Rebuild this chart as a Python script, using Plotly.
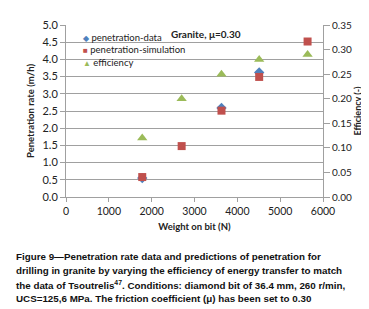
import plotly.graph_objects as go

wob_data = [1780, 3630, 4510]
pen_data = [0.55, 2.59, 3.62]
wob_sim = [1780, 2700, 3630, 4510, 5640]
pen_sim = [0.58, 1.48, 2.51, 3.49, 4.52]
wob_eff = [1780, 2700, 3630, 4510, 5640]
eff = [0.120, 0.200, 0.250, 0.280, 0.290]

series_names = ["penetration-data", "penetration-simulation", "efficiency"]
series_colors = ["#4F81BD", "#C0504D", "#9BBB59"]
series_glyphs = ["\u25C6", "\u25A0", "\u25B2"]

caption_lines = [
    "Figure 9\u2014Penetration rate data and predictions of penetration for",
    "drilling in granite by varying the efficiency of energy transfer to match",
    "the data of Tsoutrelis<sup>47</sup>. Conditions: diamond bit of 36.4 mm, 260 r/min,",
    "UCS=125,6 MPa. The friction coefficient (μ) has been set to 0.30",
]

FONT = "Lato, Open Sans, sans-serif"
L, R, T, B, W, H = 58, 54, 10, 120, 369, 309
PW, PH = W - L - R, H - T - B


def px(x):
    return (x - L) / PW


def py(y):
    return (H - B - y) / PH


fig = go.Figure()
fig.add_trace(go.Scatter(x=wob_data, y=pen_data, mode="markers", name=series_names[0],
                         marker=dict(symbol="diamond", size=8, color=series_colors[0])))
fig.add_trace(go.Scatter(x=wob_sim, y=pen_sim, mode="markers", name=series_names[1],
                         marker=dict(symbol="square", size=8, color=series_colors[1])))
fig.add_trace(go.Scatter(x=wob_eff, y=eff, mode="markers", name=series_names[2], yaxis="y2",
                         marker=dict(symbol="triangle-up", size=9, color=series_colors[2])))

fig.update_layout(
    width=W, height=H,
    margin=dict(l=L, r=R, t=T, b=B),
    paper_bgcolor="white", plot_bgcolor="white",
    font=dict(family=FONT, size=10, color="#222"),
    showlegend=False,
    xaxis=dict(range=[0, 6000], tickvals=[0, 1000, 2000, 3000, 4000, 5000, 6000],
               showgrid=False, zeroline=False, showline=True, linecolor="#A0A0A0",
               ticks="outside", ticklen=4, tickcolor="#A0A0A0",
               title=dict(text="<b>Weight on bit (N)</b>", font=dict(size=9.5), standoff=7),
               tickfont=dict(size=10.5)),
    yaxis=dict(range=[0, 5], dtick=0.5, tickformat=".1f", showgrid=True, gridcolor="#A0A0A0",
               zeroline=False, showline=True, linecolor="#A0A0A0",
               ticks="outside", ticklen=5, tickcolor="#A0A0A0",
               title=dict(text="<b>Penetration rate (m/h)</b>", font=dict(size=9.5), standoff=6),
               tickfont=dict(size=11)),
    yaxis2=dict(range=[0, 0.35], dtick=0.05, tickformat=".2f", overlaying="y", side="right",
                showgrid=False, zeroline=False, showline=True, linecolor="#A0A0A0",
                ticks="outside", ticklen=6, tickcolor="#A0A0A0",
                title=dict(text="<b>Efficiency (-)</b>", font=dict(size=9), standoff=0),
                tickfont=dict(size=10)),
)

# legend (drawn as text rows)
legend_rows_y = [23.5, 36, 49.5]
for name, col, glyph, yy in zip(series_names, series_colors, series_glyphs, legend_rows_y):
    fig.add_annotation(
        text=f"<span style='color:{col};font-size:8px'>{glyph}</span> {name}",
        xref="paper", yref="paper", x=px(73), y=py(yy), xanchor="left", yanchor="middle",
        showarrow=False, font=dict(size=9.5, family=FONT, color="#222"))

fig.add_annotation(text="<b>Granite, μ=0.30</b>", xref="paper", yref="paper",
                   x=px(198), y=py(19), xanchor="center", yanchor="middle",
                   showarrow=False, font=dict(size=10, family=FONT))

caption_y = [251, 266, 281, 295]
for line, yy in zip(caption_lines, caption_y):
    fig.add_annotation(text="<b>" + line + "</b>", xref="paper", yref="paper",
                       x=px(6), y=py(yy), xanchor="left", yanchor="middle",
                       align="left", showarrow=False,
                       font=dict(size=9.8, family="Liberation Sans, Arial, sans-serif",
                                 color="#111"))

fig.write_html("out.html")
